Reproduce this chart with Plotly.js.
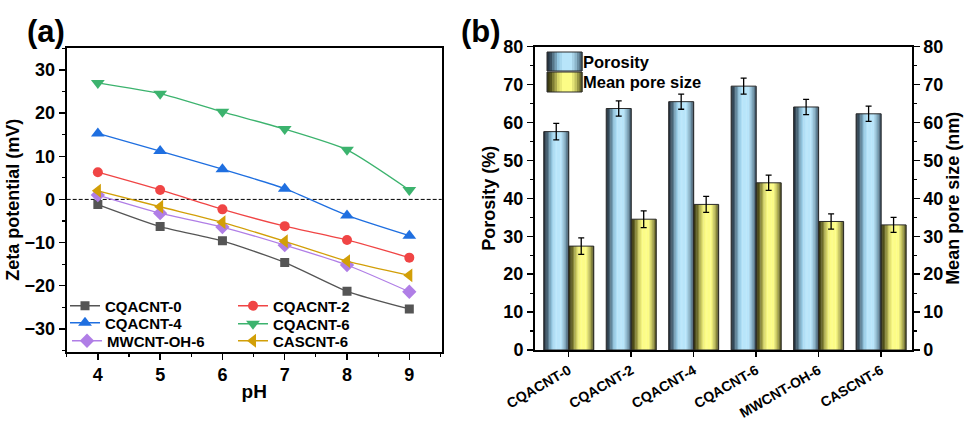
<!DOCTYPE html>
<html>
<head>
<meta charset="utf-8">
<script src="https://cdn.plot.ly/plotly-3.0.1.min.js"></script>
<style>html,body{margin:0;padding:0;background:#fff;}#chart{width:964px;height:421px;}</style>
</head>
<body>
<div id="chart"></div>
<script>
// ---------- Data: panel (a) zeta potential ----------
const pH = [4, 5, 6, 7, 8, 9];
const cqacnt0 = [-1.2, -6.3, -9.6, -14.6, -21.3, -25.4];
const cqacnt2 = [6.3, 2.2, -2.3, -6.2, -9.4, -13.5];
const cqacnt4 = [15.3, 11.2, 7.0, 2.5, -3.7, -8.4];
const cqacnt6 = [27.0, 24.5, 20.3, 16.3, 11.5, 2.2];
const mwcntOH6 = [1.0, -3.2, -6.4, -10.6, -15.2, -21.4];
const cascnt6 = [2.0, -1.7, -5.3, -9.7, -14.3, -17.6];

// ---------- Data: panel (b) porosity / pore size ----------
const samples = ['CQACNT-0', 'CQACNT-2', 'CQACNT-4', 'CQACNT-6', 'MWCNT-OH-6', 'CASCNT-6'];
const porosity = [57.6, 63.7, 65.5, 69.6, 64.1, 62.3];
const porosityErr = [2.2, 2.0, 2.0, 2.1, 2.0, 2.0];
const poreSize = [27.4, 34.5, 38.4, 44.1, 33.9, 33.0];
const poreSizeErr = [2.2, 2.2, 2.1, 2.0, 2.0, 2.0];

const W = 964, H = 421;
const FONT = 'Arial, "Liberation Sans", sans-serif';
const px = v => v / W;
const py = v => 1 - v / H;

// ---------- colour helpers for cylinder-like gradient ----------
function hex2rgb(h){ h=h.replace('#',''); return [0,2,4].map(i=>parseInt(h.substr(i,2),16)); }
function interp(stops, t){
  for(let i=0;i<stops.length-1;i++){
    const [t0,c0]=stops[i],[t1,c1]=stops[i+1];
    if(t>=t0 && t<=t1){
      const f=(t-t0)/(t1-t0), a=hex2rgb(c0), b=hex2rgb(c1);
      return 'rgb('+a.map((v,k)=>Math.round(v+(b[k]-v)*f)).join(',')+')';
    }
  }
  return stops[stops.length-1][1];
}
const blueStops = [[0,'#1c2833'],[0.12,'#3d5566'],[0.32,'#94c8e2'],[0.45,'#b8e5fa'],[0.7,'#b8e5fa'],[0.86,'#7ea6bb'],[1,'#34495a']];
const yellowStops = [[0,'#2e2d0c'],[0.12,'#59581f'],[0.32,'#d6d567'],[0.45,'#fcfc86'],[0.7,'#fcfc86'],[0.86,'#b0af52'],[1,'#4a491b']];

const traces = [];

// ---------- panel (a) ----------
const lineSeries = [
  {name:'CQACNT-0', y:cqacnt0, color:'#555555', symbol:'square', size:9, legend:'legend'},
  {name:'CQACNT-2', y:cqacnt2, color:'#f04545', symbol:'circle', size:10, legend:'legend2'},
  {name:'CQACNT-4', y:cqacnt4, color:'#1f6fe0', symbol:'triangle-up', size:12, legend:'legend3'},
  {name:'CQACNT-6', y:cqacnt6, color:'#3cb36e', symbol:'triangle-down', size:12, legend:'legend4'},
  {name:'MWCNT-OH-6', y:mwcntOH6, color:'#b07ee6', symbol:'diamond', size:11, legend:'legend5'},
  {name:'CASCNT-6', y:cascnt6, color:'#d29f08', symbol:'triangle-left', size:12, legend:'legend6'}
];
lineSeries.forEach(s => {
  traces.push({
    type:'scatter', mode:'lines+markers', x:pH, y:s.y, name:s.name,
    xaxis:'x', yaxis:'y', legend:s.legend,
    line:{color:s.color, width:1.3, shape:'spline', smoothing:0.6},
    marker:{color:s.color, symbol:s.symbol, size:s.size, line:{width:0}}
  });
});

// ---------- panel (b) bars (gradient built from narrow strips) ----------
const BW = 0.4, N = 18;
function gradientBars(vals, base, stops, yaxis){
  for(let k=0;k<N;k++){
    const t=(k+0.5)/N;
    traces.push({
      type:'bar', x:samples, y:vals, xaxis:'x2', yaxis:yaxis,
      offset: base + k*BW/N, width: BW/N*1.25,
      marker:{color:interp(stops,t), line:{width:0}},
      showlegend:false, hoverinfo:'skip'
    });
  }
}
gradientBars(porosity, -BW, blueStops, 'y2');
gradientBars(poreSize, 0, yellowStops, 'y3');

// outlines + error bars
traces.push({
  type:'bar', x:samples, y:porosity, xaxis:'x2', yaxis:'y2', offset:-BW, width:BW,
  marker:{color:'rgba(0,0,0,0)', line:{color:'#2b2b2b', width:1}},
  error_y:{type:'data', array:porosityErr, visible:true, color:'#000', thickness:1.3, width:3},
  showlegend:false, name:'Porosity'
});
traces.push({
  type:'bar', x:samples, y:poreSize, xaxis:'x2', yaxis:'y3', offset:0, width:BW,
  marker:{color:'rgba(0,0,0,0)', line:{color:'#2b2b2b', width:1}},
  error_y:{type:'data', array:poreSizeErr, visible:true, color:'#000', thickness:1.3, width:3},
  showlegend:false, name:'Mean pore size'
});
// legend entries for panel (b) (swatches drawn as gradient shapes below)
traces.push({type:'bar', x:[null], y:[null], xaxis:'x2', yaxis:'y2', name:'Porosity', legend:'legend7',
  marker:{color:'rgba(0,0,0,0)', line:{width:0}}});
traces.push({type:'bar', x:[null], y:[null], xaxis:'x2', yaxis:'y2', name:'Mean pore size', legend:'legend8',
  marker:{color:'rgba(0,0,0,0)', line:{width:0}}});

const tickFont = {family:FONT, size:18, color:'#000', weight:'bold'};
const titleFont = {family:FONT, size:18, color:'#000', weight:'bold'};
const legFont = {family:FONT, size:15, color:'#000', weight:'bold'};

const axCommon = {
  showgrid:false, zeroline:false, showline:true, linecolor:'#000', linewidth:2,
  ticks:'outside', ticklen:6, tickwidth:1.5, tickcolor:'#000', tickfont:tickFont,
  automargin:false
};
const minorY = {dtick:5, ticklen:3, tickwidth:1.2, tickcolor:'#000', ticks:'outside'};

function leg(x, yc, font){
  return {x:px(x), y:py(yc), xanchor:'left', yanchor:'middle', bgcolor:'rgba(0,0,0,0)',
    font:font || legFont, tracegroupgap:0, itemwidth:30, borderwidth:0};
}

// gradient legend swatches for panel (b)
const shapes = [
  {type:'line', xref:'x domain', yref:'y', x0:0, x1:1, y0:0, y1:0,
   line:{color:'#000', width:1, dash:'4px,2px'}, layer:'below'}
];
function swatch(x0, x1, y0, y1, stops){
  const M = 14;
  for(let k=0;k<M;k++){
    const a = x0 + (x1-x0)*k/M, b = x0 + (x1-x0)*(k+1)/M + 0.6;
    shapes.push({type:'rect', xref:'paper', yref:'paper', x0:px(a), x1:px(b), y0:py(y1), y1:py(y0),
      fillcolor:interp(stops,(k+0.5)/M), line:{width:0}, layer:'above'});
  }
  shapes.push({type:'rect', xref:'paper', yref:'paper', x0:px(x0), x1:px(x1), y0:py(y1), y1:py(y0),
    fillcolor:'rgba(0,0,0,0)', line:{color:'#2b2b2b', width:1}, layer:'above'});
}
swatch(547, 582, 52, 71, blueStops);
swatch(547, 582, 72, 92, yellowStops);

const layout = {
  width:W, height:H, margin:{l:0, r:0, t:0, b:0},
  paper_bgcolor:'#fff', plot_bgcolor:'#fff',
  barmode:'overlay', showlegend:true,
  xaxis: Object.assign({}, axCommon, {
    domain:[px(66.7), px(441.7)], anchor:'y', range:[3.5, 9.52], dtick:1, tick0:4,
    mirror:true, minor:{dtick:0.5, ticklen:3, tickwidth:1.2, tickcolor:'#000', ticks:'outside'},
    title:{text:'pH', font:Object.assign({}, titleFont, {size:19}), standoff:0}
  }),
  yaxis: Object.assign({}, axCommon, {
    domain:[py(351.7), py(48)], anchor:'x', range:[-35.3, 35.1], dtick:10, tick0:0,
    mirror:true, minor:minorY,
    title:{text:'Zeta potential (mV)', font:titleFont, standoff:0}
  }),
  xaxis2: Object.assign({}, axCommon, {
    domain:[px(535), px(911.7)], anchor:'y2', type:'category', range:[-0.54, 5.49],
    mirror:true, tickangle:-30, ticklen:5,
    tickfont:Object.assign({}, tickFont, {size:14})
  }),
  yaxis2: Object.assign({}, axCommon, {
    domain:[py(350), py(46.7)], anchor:'x2', range:[0, 80], dtick:10, tick0:0,
    minor:minorY,
    title:{text:'Porosity (%)', font:titleFont, standoff:3}
  }),
  yaxis3: Object.assign({}, axCommon, {
    overlaying:'y2', side:'right', anchor:'x2', range:[0, 80], dtick:10, tick0:0,
    minor:minorY,
    title:{text:'Mean pore size (nm)', font:titleFont, standoff:3}
  }),
  legend:  leg(65, 306),
  legend2: leg(233, 306),
  legend3: leg(65, 323),
  legend4: leg(233, 324),
  legend5: leg(67, 341),
  legend6: leg(233, 341),
  legend7: leg(543, 62, Object.assign({}, legFont, {size:16.5})),
  legend8: leg(543, 82, Object.assign({}, legFont, {size:16.5})),
  shapes: shapes,
  annotations:[
    {text:'(a)', xref:'paper', yref:'paper', x:px(46), y:py(31), xanchor:'center', yanchor:'middle',
     showarrow:false, font:{family:FONT, size:31, color:'#000', weight:'bold'}},
    {text:'(b)', xref:'paper', yref:'paper', x:px(481), y:py(31), xanchor:'center', yanchor:'middle',
     showarrow:false, font:{family:FONT, size:31, color:'#000', weight:'bold'}}
  ]
};

Plotly.newPlot('chart', traces, layout, {displayModeBar:false, staticPlot:true});
</script>
</body>
</html>
